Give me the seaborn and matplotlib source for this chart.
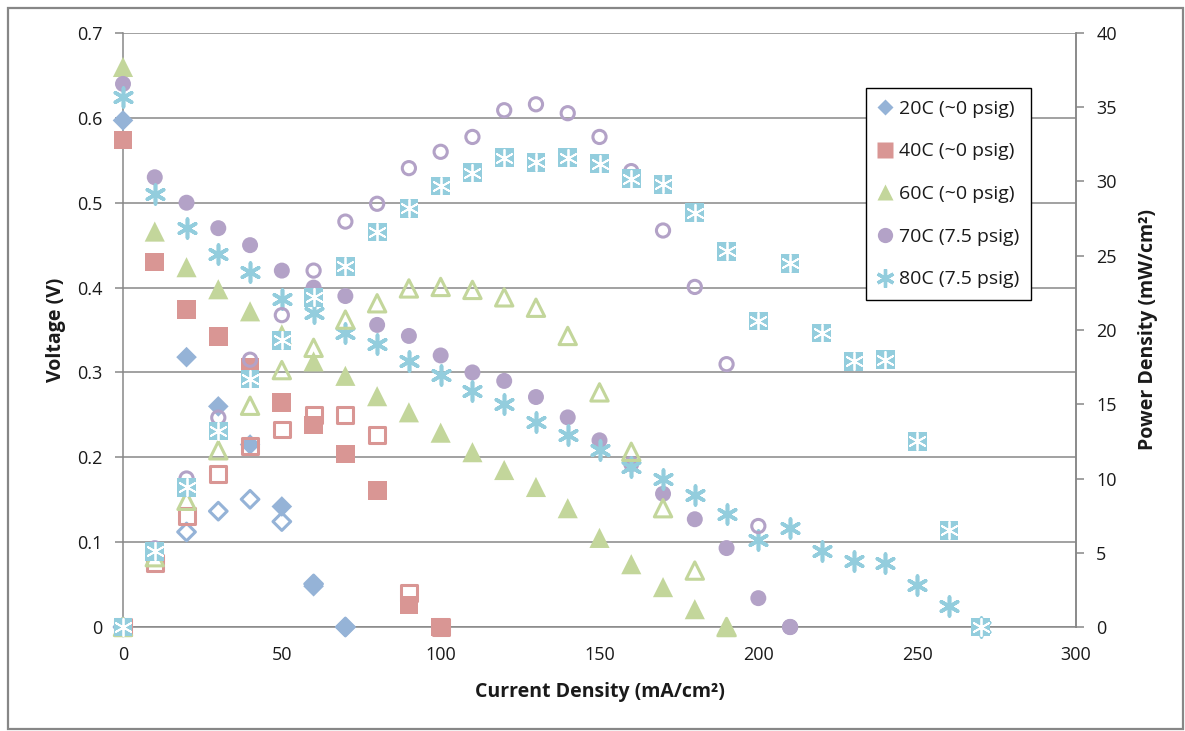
import matplotlib
matplotlib.use("Agg")
import matplotlib.pyplot as plt
from matplotlib.lines import Line2D
from matplotlib.patches import Rectangle
import pandas as pd
import seaborn as sns

# Polarization data: current density (mA/cm2), cell voltage (V), power density (mW/cm2)
i_20 = [0, 20, 30, 40, 50, 60, 70]
v_20 = [0.597, 0.318, 0.260, 0.215, 0.142, 0.048, 0.0]
p_20 = [0.0, 6.4, 7.8, 8.6, 7.1, 2.9, 0.0]

i_40 = [0, 10, 20, 30, 40, 50, 60, 70, 80, 90, 100]
v_40 = [0.574, 0.430, 0.374, 0.342, 0.306, 0.265, 0.238, 0.204, 0.161, 0.026, 0.0]
p_40 = [0.0, 4.3, 7.5, 10.3, 12.2, 13.3, 14.3, 14.3, 12.9, 2.3, 0.0]

i_60 = [0, 10, 20, 30, 40, 50, 60, 70, 80, 90, 100, 110, 120, 130, 140, 150,
        160, 170, 180, 190]
v_60 = [0.660, 0.466, 0.424, 0.398, 0.372, 0.345, 0.313, 0.296, 0.272, 0.253,
        0.229, 0.206, 0.185, 0.165, 0.140, 0.105, 0.074, 0.047, 0.021, 0.0]
p_60 = [0.0, 4.7, 8.5, 11.9, 14.9, 17.3, 18.8, 20.7, 21.8, 22.8, 22.9, 22.7,
        22.2, 21.5, 19.6, 15.8, 11.8, 8.0, 3.8, 0.0]

i_70 = [0, 10, 20, 30, 40, 50, 60, 70, 80, 90, 100, 110, 120, 130, 140, 150,
        160, 170, 180, 190, 200, 210]
v_70 = [0.640, 0.530, 0.500, 0.470, 0.450, 0.420, 0.400, 0.390, 0.356, 0.343,
        0.320, 0.300, 0.290, 0.271, 0.247, 0.220, 0.192, 0.157, 0.127, 0.093,
        0.034, 0.0]
p_70 = [0.0, 5.3, 10.0, 14.1, 18.0, 21.0, 24.0, 27.3, 28.5, 30.9, 32.0, 33.0,
        34.8, 35.2, 34.6, 33.0, 30.7, 26.7, 22.9, 17.7, 6.8, 0.0]

i_80 = [0, 10, 20, 30, 40, 50, 60, 70, 80, 90, 100, 110, 120, 130, 140, 150,
        160, 170, 180, 190, 200, 210, 220, 230, 240, 250, 260, 270]
v_80 = [0.625, 0.510, 0.470, 0.440, 0.418, 0.386, 0.370, 0.347, 0.333, 0.313,
        0.297, 0.278, 0.263, 0.241, 0.226, 0.208, 0.189, 0.175, 0.155, 0.133,
        0.103, 0.117, 0.090, 0.078, 0.075, 0.050, 0.025, 0.0]
p_80 = [0.0, 5.1, 9.4, 13.2, 16.7, 19.3, 22.2, 24.3, 26.6, 28.2, 29.7, 30.6,
        31.6, 31.3, 31.6, 31.2, 30.2, 29.8, 27.9, 25.3, 20.6, 24.5, 19.8, 17.9,
        18.0, 12.5, 6.5, 0.0]

labels = ["20C (~0 psig)", "40C (~0 psig)", "60C (~0 psig)",
          "70C (7.5 psig)", "80C (7.5 psig)"]
colors = ["#95B3D7", "#D99694", "#C3D69B", "#B3A2C7", "#93CDDD"]

ASTER = (6, 2, 0)
series = [
    dict(i=i_20, v=v_20, p=p_20, marker="D", size=10.5),
    dict(i=i_40, v=v_40, p=p_40, marker="s", size=13.5),
    dict(i=i_60, v=v_60, p=p_60, marker="^", size=14.5),
    dict(i=i_70, v=v_70, p=p_70, marker="o", size=11.5),
    dict(i=i_80, v=v_80, p=p_80, marker=ASTER, size=13.5),
]

sns.set_theme(style="white")
plt.rcParams["font.family"] = ["Open Sans", "DejaVu Sans"]
text_color = "#1a1a1a"
axis_gray = "#878787"
tick_fs = 13
label_fs = 14
legend_fs = 14

fig = plt.figure(figsize=(11.85, 7.31), dpi=100)
ax = fig.add_axes([123 / 1185, 1 - 627 / 731, (1076 - 123) / 1185, (627 - 33) / 731])
ax2 = ax.twinx()

# Voltage (filled markers, left axis)
for s, lab, c in zip(series, labels, colors):
    df = pd.DataFrame({"current": s["i"], "voltage": s["v"]})
    if s["marker"] == ASTER:
        sns.scatterplot(data=df, x="current", y="voltage", ax=ax, marker=ASTER,
                        s=s["size"] ** 2, color=c, linewidth=2.6,
                        clip_on=False, legend=False, zorder=3)
    else:
        sns.scatterplot(data=df, x="current", y="voltage", ax=ax,
                        marker=s["marker"], s=s["size"] ** 2, color=c,
                        edgecolor="none", linewidth=0, clip_on=False,
                        legend=False, zorder=3)

# Power density (hollow markers, right axis)
for s, c in zip(series, colors):
    df = pd.DataFrame({"current": s["i"], "power": s["p"]})
    if s["marker"] == ASTER:
        sns.scatterplot(data=df, x="current", y="power", ax=ax2, marker="s",
                        s=13.5 ** 2, color=c, edgecolor="none", linewidth=0,
                        clip_on=False, legend=False, zorder=3)
        sns.scatterplot(data=df, x="current", y="power", ax=ax2, marker=ASTER,
                        s=12.5 ** 2, color="white", linewidth=1.3,
                        clip_on=False, legend=False, zorder=4)
    else:
        size = s["size"] - 2 if s["marker"] != "D" else s["size"] - 1.5
        sns.scatterplot(data=df, x="current", y="power", ax=ax2,
                        marker=s["marker"], s=size ** 2, color=c,
                        facecolor="none", edgecolor=c, linewidth=2.2,
                        clip_on=False, legend=False, zorder=3)

# Axes, ticks and grid
ax.set_xlim(0, 300)
ax.set_ylim(0, 0.7)
ax.set_xticks(range(0, 301, 50))
ax.set_yticks([0, 0.1, 0.2, 0.3, 0.4, 0.5, 0.6, 0.7])
ax.set_yticklabels(["0", "0.1", "0.2", "0.3", "0.4", "0.5", "0.6", "0.7"])
ax2.set_ylim(0, 40)
ax2.set_yticks(range(0, 41, 5))

ax.grid(axis="y", color=axis_gray, linewidth=1.1)
ax.set_axisbelow(True)
for a in (ax, ax2):
    a.spines["top"].set_visible(False)
    for side in ("left", "right", "bottom"):
        a.spines[side].set_color(axis_gray)
        a.spines[side].set_linewidth(1.1)
ax2.spines["left"].set_visible(False)
ax2.spines["bottom"].set_visible(False)

ax.tick_params(axis="both", which="both", direction="out", length=5.5,
               width=1.1, color=axis_gray, labelsize=tick_fs,
               labelcolor=text_color)
ax.tick_params(axis="x", pad=8)
ax.tick_params(axis="y", pad=9)
ax2.tick_params(axis="y", direction="out", length=5.5, width=1.1,
                color=axis_gray, labelsize=tick_fs, labelcolor=text_color,
                pad=9)
ax2.grid(False)
ax.set_xlabel("Current Density (mA/cm²)", fontsize=label_fs,
              fontweight="bold", color=text_color, labelpad=13)
ax.set_ylabel("Voltage (V)", fontsize=label_fs, fontweight="bold",
              color=text_color, labelpad=8)
ax2.set_ylabel("Power Density (mW/cm²)", fontsize=label_fs, fontweight="bold",
               color=text_color, labelpad=15)

# Legend for the voltage series
handles = []
for s, lab, c in zip(series, labels, colors):
    if s["marker"] == ASTER:
        h = Line2D([], [], linestyle="none", marker=ASTER, markersize=13,
                   color=c, markeredgewidth=2.4)
    else:
        ms = {"D": 8.5, "s": 12, "^": 12, "o": 11}[s["marker"]]
        h = Line2D([], [], linestyle="none", marker=s["marker"], markersize=ms,
                   color=c, markeredgecolor="none")
    handles.append(h)
leg = fig.legend(handles, labels, loc="upper left",
                 bbox_to_anchor=(866 / 1185, 1 - 88 / 731),
                 frameon=True, fancybox=False, framealpha=1, edgecolor="black",
                 fontsize=legend_fs, labelspacing=1.27, handlelength=0.8,
                 handletextpad=0.3, borderpad=0.6, borderaxespad=0)
leg.get_frame().set_linewidth(1.0)
for t in leg.get_texts():
    t.set_color(text_color)

# Chart area border
fig.patches.append(Rectangle((8 / 1185, 2 / 731), 1175 / 1185, 721 / 731,
                             transform=fig.transFigure, fill=False,
                             edgecolor=axis_gray, linewidth=1.6))

fig.savefig("out.png", dpi=100)
